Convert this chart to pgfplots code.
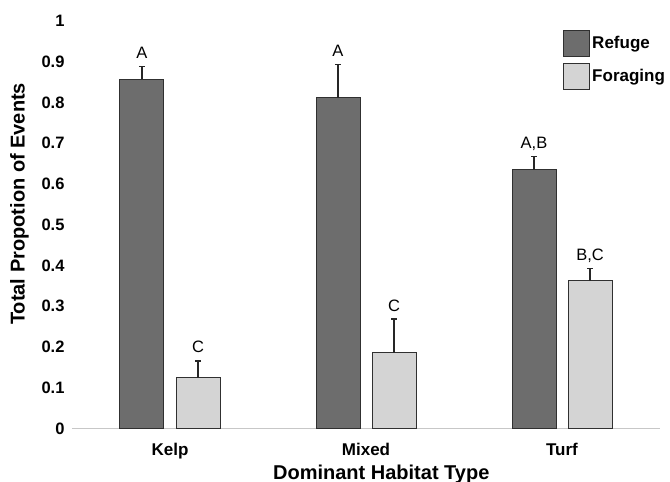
\documentclass[border=0pt]{standalone}
\usepackage{fontspec}
\setmainfont{Liberation Sans}
\usepackage{pgfplots}
\pgfplotsset{compat=1.18}
\definecolor{darkbar}{HTML}{6D6D6D}
\definecolor{lightbar}{HTML}{D4D4D4}
\definecolor{edge}{HTML}{303030}
\begin{document}
\begin{tikzpicture}
\path[use as bounding box] (-72bp,-53.6bp) rectangle (598bp,428.4bp);
\begin{axis}[
  scale only axis,
  width=588bp, height=407.5bp,
  xmin=-0.5, xmax=2.5, ymin=0, ymax=1,
  ybar, bar width=44bp,
  axis x line=bottom, axis y line=left,
  x axis line style={draw=black!22, line width=0.8bp, -},
  y axis line style={draw=none},
  major tick length=0pt,
  xtick={0,1,2}, xticklabels={Kelp,Mixed,Turf},
  ytick={0,0.1,...,1.0},
  yticklabels={0,0.1,0.2,0.3,0.4,0.5,0.6,0.7,0.8,0.9,1},
  /pgf/number format/assume math mode=true,
  yticklabel style={font=\fontsize{16.5bp}{18bp}\selectfont\bfseries, xshift=-4bp},
  xticklabel style={font=\fontsize{17bp}{19bp}\selectfont\bfseries, yshift=-11bp},
  ylabel={Total Propotion of Events},
  xlabel={Dominant Habitat Type},
  ylabel style={font=\fontsize{20bp}{22bp}\selectfont\bfseries, at={(ticklabel cs:0.551)}, yshift=6bp},
  xlabel style={font=\fontsize{20bp}{22bp}\selectfont\bfseries, at={(ticklabel cs:0.526)}, yshift=1bp},
  legend style={draw=none, fill=none, at={(0.830,0.983)}, anchor=north west,
    font=\fontsize{17bp}{19bp}\selectfont\bfseries, row sep=6bp,
    legend cell align=left},
  legend image code/.code={\draw[#1] (0bp,-13bp) rectangle (26bp,13bp);},
  error bars/y dir=plus, error bars/y explicit,
  error bars/error bar style={line width=1.5bp, black!85},
  error bars/error mark options={rotate=90, mark size=3bp, line width=1.5bp, black!85},
]
\addplot[fill=darkbar, draw=edge, line width=1bp, bar shift=-28bp]
  coordinates {(0,0.857) +- (0,0.031) (1,0.811) +- (0,0.082) (2,0.635) +- (0,0.032)};
\addlegendentry{Refuge}
\addplot[fill=lightbar, draw=edge, line width=1bp, bar shift=28bp]
  coordinates {(0,0.124) +- (0,0.042) (1,0.186) +- (0,0.082) (2,0.362) +- (0,0.030)};
\addlegendentry{Foraging}
\begin{scope}[every node/.style={font=\fontsize{16.5bp}{18bp}\selectfont, anchor=base, yshift=8bp}]
\node at (axis cs:-0.143,0.888) {A};
\node at (axis cs:0.857,0.893) {A};
\node at (axis cs:1.857,0.667) {A,B};
\node at (axis cs:0.143,0.166) {C};
\node at (axis cs:1.143,0.268) {C};
\node at (axis cs:2.143,0.392) {B,C};
\end{scope}
\end{axis}
\end{tikzpicture}
\end{document}
